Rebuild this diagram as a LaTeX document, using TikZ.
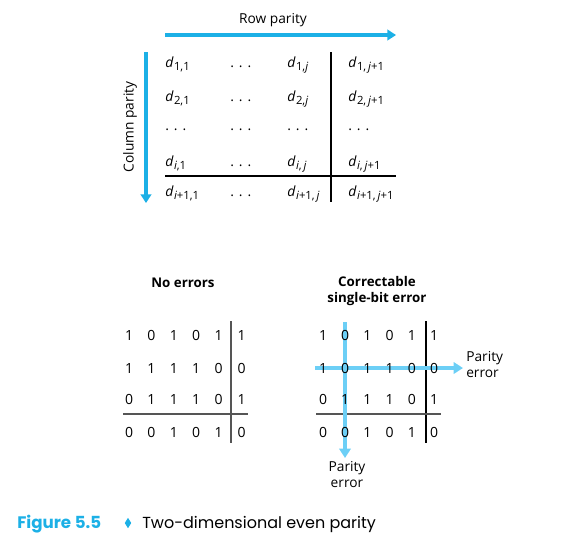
\documentclass[tikz,border=0pt]{standalone}
\usepackage{fontspec}
\setmainfont{Open Sans}
\newfontfamily\capfont{Poppins}
\usetikzlibrary{arrows.meta,shapes.geometric}
\definecolor{cy}{HTML}{1CB0E6}
\definecolor{lcy}{HTML}{6CCFF6}
\definecolor{gline}{HTML}{555555}
\newcommand\dsub[1]{\textit{d}\kern0.3pt\raisebox{-0.5ex}{\fontsize{8.5}{9}\selectfont#1}}
\newcommand\ddd{.\hspace{0.35em}.\hspace{0.35em}.}
\begin{document}
\begin{tikzpicture}[x=0.75pt,y=-0.75pt,
  cell/.style={anchor=base west,inner sep=0pt,font=\fontsize{10.5}{12}\selectfont},
  bit/.style={anchor=base,inner sep=0pt,font=\fontsize{10.5}{12}\selectfont},
  lbl/.style={inner sep=0pt,font=\fontsize{10.3}{12}\selectfont,align=center},
  blbl/.style={inner sep=0pt,font=\fontsize{10}{12.5}\selectfont\bfseries,align=center},
  bigarrow/.style={cy,line width=2.4pt,-{Triangle[length=6.5pt,width=8pt]}},
  errarrow/.style={lcy,line width=3pt,-{Triangle[length=7pt,width=8.5pt]}},
  thinline/.style={black,line width=0.8pt},
  grayline/.style={gline,line width=1.2pt}]
\useasboundingbox (0,0) rectangle (580,544);
% ---------- top general scheme ----------
\node[lbl] (rowp) at (273,20) {Row parity};
\coordinate (ra) at (165,35);
\coordinate (rb) at (396,35);
\draw[bigarrow] (ra) -- (rb);
\coordinate (ca) at (146,52);
\coordinate (cb) at (146,203);
\draw[bigarrow] (ca) -- (cb);
\node[lbl,rotate=90] (colp) at (130,127) {Column parity};
% cells
\node[cell] (a11) at (165,67) {\dsub{1,1}};
\node[cell] (a12) at (230,67) {\ddd};
\node[cell] (a13) at (287,67) {\dsub{1,\textit{j}}};
\node[cell] (a14) at (348,67) {\dsub{1,\,\textit{j}+1}};
\node[cell] (a21) at (165,101) {\dsub{2,1}};
\node[cell] (a22) at (230,101) {\ddd};
\node[cell] (a23) at (287,101) {\dsub{2,\textit{j}}};
\node[cell] (a24) at (348,101) {\dsub{2,\,\textit{j}+1}};
\node[cell] (a31) at (165,130) {\ddd};
\node[cell] (a32) at (230,130) {\ddd};
\node[cell] (a33) at (287,130) {\ddd};
\node[cell] (a34) at (348,130) {\ddd};
\node[cell] (a41) at (165,166) {\dsub{\textit{i},1}};
\node[cell] (a42) at (230,166) {\ddd};
\node[cell] (a43) at (287,166) {\dsub{\textit{i},\,\textit{j}}};
\node[cell] (a44) at (348,166) {\dsub{\textit{i},\,\textit{j}+1}};
\node[cell] (a51) at (165,196) {\dsub{\textit{i}+1,1}};
\node[cell] (a52) at (230,196) {\ddd};
\node[cell] (a53) at (287,196) {\dsub{\textit{i}+1,\,\textit{j}}};
\node[cell] (a54) at (348,196) {\dsub{\textit{i}+1,\,\textit{j}+1}};
\coordinate (tv1) at (331,52);
\coordinate (tv2) at (331,202);
\coordinate (th1) at (165,176);
\coordinate (th2) at (396,176);
\draw[thinline] (tv1) -- (tv2);
\draw[thinline] (th1) -- (th2);
% ---------- bottom left: no errors ----------
\node[blbl] (noerr) at (183,283) {No errors};
\coordinate (lv1) at (231,321);
\coordinate (lv2) at (231,443);
\coordinate (lh1) at (123,414);
\coordinate (lh2) at (248,414);
\draw[grayline] (lv1) -- (lv2);
\draw[grayline] (lh1) -- (lh2);
\foreach \r/\y/\bits in {1/340/{1,0,1,0,1,1},2/373/{1,1,1,1,0,0},3/404/{0,1,1,1,0,1},4/437/{0,0,1,0,1,0}}{
  \foreach \b [count=\c] in \bits {
    \pgfmathsetmacro\xx{129+22.4*(\c-1)+(\c==6?0.5:0)}
    \node[bit] (L\r\c) at (\xx,\y) {\b};
  }
}
% ---------- bottom right: correctable error ----------
\node[blbl] (corr) at (377,291) {Correctable\\single-bit error};
\coordinate (rv1) at (426,321);
\coordinate (rv2) at (426,443);
\coordinate (rh1) at (316,414);
\coordinate (rh2) at (441,414);
\draw[thinline] (rv1) -- (rv2);
\draw[grayline] (rh1) -- (rh2);
\coordinate (eh1) at (315,368);
\coordinate (eh2) at (463,368);
\coordinate (ev1) at (345,322);
\coordinate (ev2) at (345,458);
\draw[errarrow] (eh1) -- (eh2);
\draw[errarrow] (ev1) -- (ev2);
\foreach \r/\y/\bits in {1/340/{1,0,1,0,1,1},2/373/{1,0,1,1,0,0},3/404/{0,1,1,1,0,1},4/437/{0,0,1,0,1,0}}{
  \foreach \b [count=\c] in \bits {
    \pgfmathsetmacro\xx{323+22.2*(\c-1)}
    \node[bit] (R\r\c) at (\xx,\y) {\b};
  }
}
\node[lbl,anchor=west,align=left] (perr1) at (466,365) {Parity\\error};
\node[lbl] (perr2) at (347,475) {Parity\\error};
% ---------- caption ----------
\node[anchor=base west,inner sep=0pt,font=\capfont\fontsize{12.5}{14}\selectfont\bfseries,text=cy] (fig) at (17,528) {Figure 5.5};
\node[diamond,fill=cy,inner sep=0pt,minimum width=5pt,minimum height=8pt,aspect=0.6] (dia) at (128,523) {};
\node[anchor=base west,inner sep=0pt,font=\capfont\fontsize{12}{14}\selectfont] (cap) at (142,528) {Two-dimensional even parity};
\end{tikzpicture}
\end{document}
